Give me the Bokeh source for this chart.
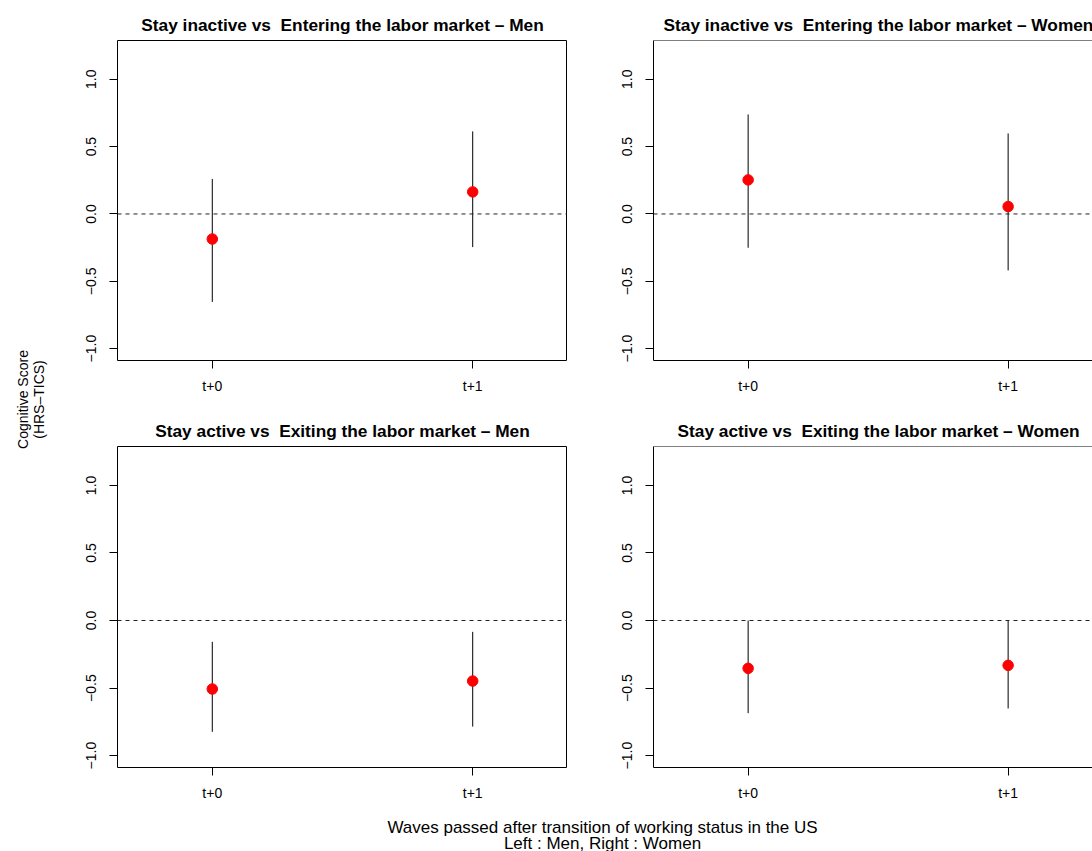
import math
from bokeh.plotting import figure
from bokeh.models import Range1d, FixedTicker, Span, Title
from bokeh.layouts import row, column
from bokeh.core.properties import value
from bokeh.embed import file_html
from bokeh.resources import INLINE

# ---- data ----
wave_labels = ["t+0", "t+1"]
wave_pos = [0, 1]

enter_men_est = [-0.186, 0.164]
enter_men_lo = [-0.653, -0.246]
enter_men_hi = [0.260, 0.613]

enter_women_est = [0.253, 0.055]
enter_women_lo = [-0.251, -0.419]
enter_women_hi = [0.739, 0.598]

exit_men_est = [-0.507, -0.448]
exit_men_lo = [-0.824, -0.785]
exit_men_hi = [-0.158, -0.084]

exit_women_est = [-0.354, -0.332]
exit_women_lo = [-0.686, -0.651]
exit_women_hi = [0.000, 0.000]

y_ticks = [-1.0, -0.5, 0.0, 0.5, 1.0]
y_tick_labels = ["\u22121.0", "\u22120.5", "0.0", "0.5", "1.0"]

titles = [
    "Stay inactive vs \u00a0Entering the labor market \u2013 Men",
    "Stay inactive vs \u00a0Entering the labor market \u2013 Women",
    "Stay active vs \u00a0Exiting the labor market \u2013 Men",
    "Stay active vs \u00a0Exiting the labor market \u2013 Women",
]
ylab_lines = ["Cognitive Score", "(HRS\u2013TICS)"]
xlab_lines = ["Waves passed after transition of working status in the US",
              "Left : Men, Right : Women"]

FONT = "Liberation Sans"


def panel(title, est, lo, hi, width, height, mbl, mbt, right_side, title_offset):
    x_end = 1.3245 if right_side else 1.364
    p = figure(width=width, height=height,
               x_range=Range1d(-0.364, x_end), y_range=Range1d(-1.088, 1.288),
               output_backend="svg", toolbar_location=None,
               min_border_left=mbl, min_border_right=0,
               min_border_top=mbt, min_border_bottom=40)
    p.xgrid.visible = False
    p.ygrid.visible = False
    p.background_fill_color = "white"
    p.border_fill_color = "white"
    if right_side:
        t = Title(text=title, align="left", offset=title_offset)
    else:
        t = Title(text=title, align="center")
    t.text_font_size = "17.3px"
    t.text_font_style = "bold"
    t.text_font = FONT
    t.text_color = "black"
    t.standoff = 12
    p.add_layout(t, "above")

    for ax in (p.xaxis[0], p.yaxis[0]):
        ax.major_tick_out = 8
        ax.major_tick_in = 0
        ax.minor_tick_line_color = None
        ax.major_tick_line_color = "black"
        ax.major_label_text_font = FONT
        ax.major_label_text_font_size = "14px"
        ax.major_label_text_color = "black"
    p.xaxis.major_label_standoff = 9
    p.yaxis.major_label_standoff = 13
    p.xaxis.ticker = FixedTicker(ticks=wave_pos)
    p.xaxis.major_label_overrides = {k: v for k, v in zip(wave_pos, wave_labels)}
    p.yaxis.ticker = FixedTicker(ticks=y_ticks)
    p.yaxis.major_label_overrides = {k: v for k, v in zip(y_ticks, y_tick_labels)}
    p.yaxis.major_label_orientation = "vertical"

    if right_side:
        p.outline_line_color = None
        p.xaxis.axis_line_color = "black"
        p.yaxis.axis_line_color = "black"
        p.add_layout(Span(location=1.288, dimension="width",
                          line_color="black", line_width=1))
    else:
        p.outline_line_color = "black"
        p.outline_line_alpha = 1.0
        p.outline_line_width = 1
        p.xaxis.axis_line_color = None
        p.yaxis.axis_line_color = None

    p.add_layout(Span(location=0, dimension="width", line_color="#222222",
                      line_width=1, line_dash="4 4"))
    p.segment(x0=wave_pos, y0=lo, x1=wave_pos, y1=hi,
              line_color="black", line_width=1)
    p.scatter(x=wave_pos, y=est, size=10.5, fill_color="red", line_color="red")
    return p


tl = panel(titles[0], enter_men_est, enter_men_lo, enter_men_hi, 507, 400, 57, 40, False, 0)
tr = panel(titles[1], enter_women_est, enter_women_lo, enter_women_hi, 525, 400, 86, 40, True, 10)
bl = panel(titles[2], exit_men_est, exit_men_lo, exit_men_hi, 507, 407, 57, 46, False, 0)
br = panel(titles[3], exit_women_est, exit_women_lo, exit_women_hi, 525, 407, 86, 46, True, 24)

# y label strip
ylab = figure(width=60, height=807, x_range=Range1d(0, 60), y_range=Range1d(0, 807),
              x_axis_type=None, y_axis_type=None, output_backend="svg",
              toolbar_location=None, min_border=0, outline_line_color=None)
ylab.text(x=[22.5, 38.5], y=[408, 408], text=ylab_lines, angle=math.pi / 2,
          text_align="center", text_baseline="middle",
          text_font=value(FONT), text_font_size="14px", text_color="black")

# x label strip
xlab = figure(width=1092, height=44, x_range=Range1d(0, 1092), y_range=Range1d(0, 44),
              x_axis_type=None, y_axis_type=None, output_backend="svg",
              toolbar_location=None, min_border=0, outline_line_color=None)
xlab.text(x=[602, 602], y=[24, 8.5], text=xlab_lines,
          text_align="center", text_baseline="alphabetic",
          text_font=value(FONT), text_font_size="17px", text_color="black")

layout = column(row(ylab, column(row(tl, tr), row(bl, br))), xlab)

open("out.html", "w").write(file_html(layout, INLINE))
